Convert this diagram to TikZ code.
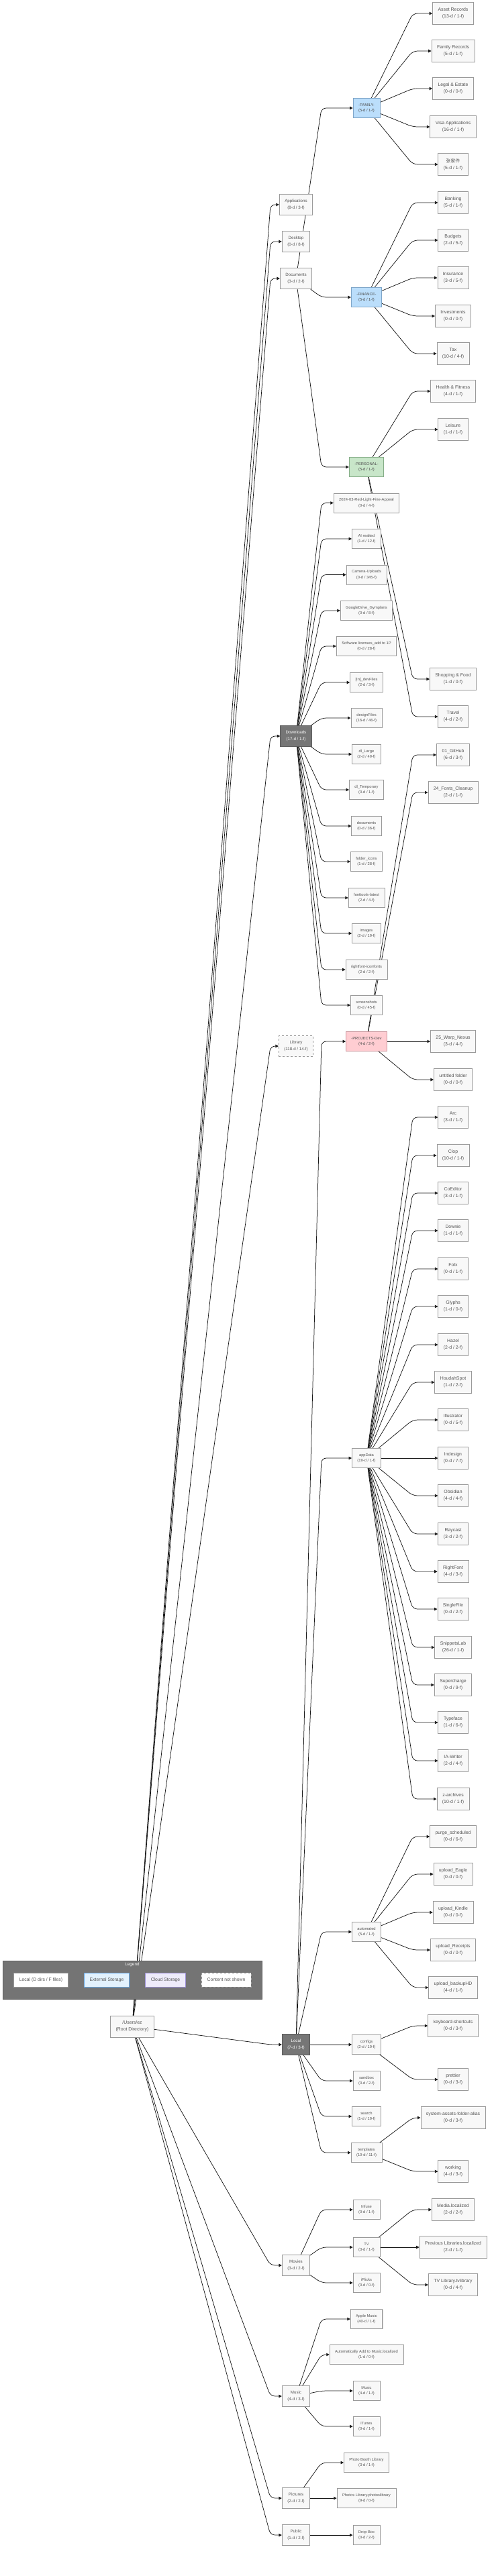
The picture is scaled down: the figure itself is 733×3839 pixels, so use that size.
\documentclass[tikz,border=0pt]{standalone}
\usepackage{fontspec}
\setmainfont{Liberation Sans}
\newfontfamily\cjk{Noto Sans CJK SC}
\usetikzlibrary{arrows.meta,shadows}
\pgfdeclarelayer{bg}
\pgfsetlayers{bg,main}
\definecolor{boxfill}{HTML}{F8F8F8}
\definecolor{boxdraw}{HTML}{9A9A9A}
\definecolor{txtgray}{HTML}{555555}
\definecolor{darkfill}{HTML}{767676}
\definecolor{darkdraw}{HTML}{5A5A5A}
\definecolor{bluefill}{HTML}{BBDEFB}
\definecolor{bluedraw}{HTML}{7FA6C9}
\definecolor{greenfill}{HTML}{C8E6C9}
\definecolor{greendraw}{HTML}{86AE88}
\definecolor{pinkfill}{HTML}{FFCDD2}
\definecolor{pinkdraw}{HTML}{C9959B}
\definecolor{extfill}{HTML}{E3F2FD}
\definecolor{extdraw}{HTML}{64A8E6}
\definecolor{cloudfill}{HTML}{EEEBFA}
\definecolor{clouddraw}{HTML}{9C8FD6}
\definecolor{legendfill}{HTML}{747474}
\tikzset{
  base/.style={draw=boxdraw, fill=boxfill, text=txtgray, align=center,
    inner xsep=8pt, inner ysep=0pt, line width=0.7pt,
    drop shadow={shadow xshift=0.7pt, shadow yshift=-0.9pt, fill=black!40, opacity=0.5}},
  leaf/.style={base, font=\fontsize{6.9}{10}\selectfont, minimum height=33pt},
  lvltwo/.style={base, font=\fontsize{6.2}{10}\selectfont, minimum height=31pt},
  lvlthree/.style={base, font=\fontsize{5.8}{8.5}\selectfont, minimum height=29pt},
  darkbox/.style={fill=darkfill, draw=darkdraw, text=white},
  bluebox/.style={fill=bluefill, draw=bluedraw, text=black!70},
  greenbox/.style={fill=greenfill, draw=greendraw, text=black!70},
  pinkbox/.style={fill=pinkfill, draw=pinkdraw, text=black!70},
  dashbox/.style={dashed},
  edge/.style={draw=black!90, line width=0.75pt, rounded corners=7pt,
    -{Triangle[length=4.5pt,width=4.4pt]}},
  legitem/.style={draw=boxdraw, fill=white, text=txtgray, inner xsep=8.5pt,
    minimum height=21pt, font=\fontsize{6.8}{8}\selectfont, line width=0.7pt}
}
\begin{document}
\begin{tikzpicture}[x=1pt,y=-1pt]
\useasboundingbox (0,0) rectangle (733,3839);
\coordinate (bA) at (403,0);
\coordinate (bB) at (479,0);
\coordinate (bC) at (615,0);

% root
\node[leaf, minimum height=32pt] (root) at (197,3020) {/Users/ez\\(Root Directory)};

% second level
\node[lvltwo] (applications) at (441,305) {Applications\\(8-d / 3-f)};
\node[lvltwo] (desktop) at (441,360) {Desktop\\(0-d / 8-f)};
\node[lvltwo] (documents) at (441,415) {Documents\\(3-d / 2-f)};
\node[lvltwo, darkbox] (downloads) at (441,1097) {Downloads\\(17-d / 1-f)};
\node[lvltwo, dashbox] (library) at (441,1559) {Library\\(118-d / 14-f)};
\node[lvltwo, darkbox] (local) at (441,3047) {Local\\(7-d / 3-f)};
\node[lvltwo] (movies) at (441,3376) {Movies\\(3-d / 2-f)};
\node[lvltwo] (music) at (441,3571) {Music\\(4-d / 3-f)};
\node[lvltwo] (pictures) at (441,3723) {Pictures\\(2-d / 2-f)};
\node[lvltwo] (public) at (441,3778) {Public\\(1-d / 2-f)};

% third level
\node[lvlthree, bluebox] (family) at (546,161) {-FAMILY-\\(5-d / 1-f)};
\node[lvlthree, bluebox] (finance) at (546,443) {-FINANCE-\\(5-d / 1-f)};
\node[lvlthree, greenbox] (personal) at (546,696) {-PERSONAL-\\(5-d / 1-f)};
\node[lvlthree] (redlight) at (546,749.5) {2024-03-Red-Light-Fine-Appeal\\(0-d / 4-f)};
\node[lvlthree] (airealted) at (546,803) {AI realted\\(1-d / 12-f)};
\node[lvlthree] (camera) at (546,856.5) {Camera-Uploads\\(0-d / 345-f)};
\node[lvlthree] (gdrive) at (546,910) {GoogleDrive\_Gymplans\\(0-d / 8-f)};
\node[lvlthree] (software) at (546,963) {Software licenses\_add to 1P\\(0-d / 28-f)};
\node[lvlthree] (devfiles) at (546,1017) {[In]\_devFiles\\(2-d / 3-f)};
\node[lvlthree] (designfiles) at (546,1070) {designFiles\\(16-d / 46-f)};
\node[lvlthree] (dllarge) at (546,1124) {dl\_Large\\(2-d / 49-f)};
\node[lvlthree] (dltemp) at (546,1177) {dl\_Temporary\\(0-d / 1-f)};
\node[lvlthree] (documentstwo) at (546,1231) {documents\\(0-d / 36-f)};
\node[lvlthree] (foldericons) at (546,1284) {folder\_icons\\(1-d / 28-f)};
\node[lvlthree] (fonttools) at (546,1338) {fonttools-latest\\(2-d / 4-f)};
\node[lvlthree] (images) at (546,1391) {images\\(2-d / 19-f)};
\node[lvlthree] (rficon) at (546,1445) {rightfont-iconfonts\\(2-d / 2-f)};
\node[lvlthree] (screenshots) at (546,1498) {screenshots\\(0-d / 45-f)};
\node[lvlthree, pinkbox] (projects) at (546,1552) {-PROJECTS-Dev\\(4-d / 2-f)};
\node[lvlthree] (appdata) at (546,2173) {appData\\(19-d / 1-f)};
\node[lvlthree] (automated) at (546,2879) {automated\\(5-d / 1-f)};
\node[lvlthree] (configs) at (546,3047) {configs\\(2-d / 19-f)};
\node[lvlthree] (sandbox) at (546,3101) {sandbox\\(0-d / 2-f)};
\node[lvlthree] (search) at (546,3154) {search\\(1-d / 19-f)};
\node[lvlthree] (templates) at (546,3208) {templates\\(10-d / 11-f)};
\node[lvlthree] (infuse) at (546,3293) {Infuse\\(0-d / 1-f)};
\node[lvlthree] (tv) at (546,3349) {TV\\(3-d / 1-f)};
\node[lvlthree] (iflicks) at (546,3402) {iFlicks\\(0-d / 0-f)};
\node[lvlthree] (applemusic) at (546,3456) {Apple Music\\(40-d / 1-f)};
\node[lvlthree] (autoadd) at (546,3509) {Automatically Add to Music.localized\\(1-d / 0-f)};
\node[lvlthree] (musictwo) at (546,3563) {Music\\(4-d / 1-f)};
\node[lvlthree] (itunes) at (546,3616) {iTunes\\(0-d / 1-f)};
\node[lvlthree] (photobooth) at (546,3670) {Photo Booth Library\\(3-d / 1-f)};
\node[lvlthree] (photoslib) at (546,3723) {Photos Library.photoslibrary\\(9-d / 0-f)};
\node[lvlthree] (dropbox) at (546,3778) {Drop Box\\(0-d / 2-f)};

% leaves
\node[leaf] (asset) at (675,20) {Asset Records\\(13-d / 1-f)};
\node[leaf] (familyrec) at (675,76) {Family Records\\(5-d / 1-f)};
\node[leaf] (legal) at (675,132) {Legal \& Estate\\(0-d / 0-f)};
\node[leaf] (visa) at (675,189) {Visa Applications\\(16-d / 1-f)};
\node[leaf] (zhang) at (675,245) {{\cjk 张家件}\\(5-d / 1-f)};
\node[leaf] (banking) at (675,302) {Banking\\(5-d / 1-f)};
\node[leaf] (budgets) at (675,358) {Budgets\\(2-d / 5-f)};
\node[leaf] (insurance) at (675,414) {Insurance\\(3-d / 5-f)};
\node[leaf] (investments) at (675,471) {Investments\\(0-d / 0-f)};
\node[leaf] (tax) at (675,527) {Tax\\(10-d / 4-f)};
\node[leaf] (health) at (675,583) {Health \& Fitness\\(4-d / 1-f)};
\node[leaf] (leisure) at (675,640) {Leisure\\(1-d / 1-f)};
\node[leaf] (shopping) at (675,1012) {Shopping \& Food\\(1-d / 0-f)};
\node[leaf] (travel) at (675,1068) {Travel\\(4-d / 2-f)};
\node[leaf] (github) at (675,1125) {01\_GitHub\\(6-d / 3-f)};
\node[leaf] (fontsclean) at (675,1181) {24\_Fonts\_Cleanup\\(2-d / 1-f)};
\node[leaf] (warp) at (675,1552) {25\_Warp\_Nexus\\(3-d / 4-f)};
\node[leaf] (untitled) at (675,1609) {untitled folder\\(0-d / 0-f)};
\node[leaf] (arc) at (675,1665) {Arc\\(3-d / 1-f)};
\node[leaf] (clop) at (675,1722) {Clop\\(10-d / 1-f)};
\node[leaf] (coeditor) at (675,1778) {CoEditor\\(3-d / 1-f)};
\node[leaf] (downie) at (675,1834) {Downie\\(1-d / 1-f)};
\node[leaf] (folx) at (675,1891) {Folx\\(0-d / 1-f)};
\node[leaf] (glyphs) at (675,1947) {Glyphs\\(1-d / 0-f)};
\node[leaf] (hazel) at (675,2004) {Hazel\\(2-d / 2-f)};
\node[leaf] (houdah) at (675,2060) {HoudahSpot\\(1-d / 2-f)};
\node[leaf] (illustrator) at (675,2116) {Illustrator\\(0-d / 5-f)};
\node[leaf] (indesign) at (675,2173) {Indesign\\(0-d / 7-f)};
\node[leaf] (obsidian) at (675,2229) {Obsidian\\(4-d / 4-f)};
\node[leaf] (raycast) at (675,2286) {Raycast\\(3-d / 2-f)};
\node[leaf] (rightfont) at (675,2342) {RightFont\\(4-d / 3-f)};
\node[leaf] (singlefile) at (675,2398) {SingleFile\\(0-d / 2-f)};
\node[leaf] (snippets) at (675,2455) {SnippetsLab\\(26-d / 1-f)};
\node[leaf] (supercharge) at (675,2511) {Supercharge\\(0-d / 9-f)};
\node[leaf] (typeface) at (675,2567) {Typeface\\(1-d / 6-f)};
\node[leaf] (iawriter) at (675,2624) {IA-Writer\\(2-d / 4-f)};
\node[leaf] (zarchives) at (675,2681) {z-archives\\(10-d / 1-f)};
\node[leaf] (purge) at (675,2737) {purge\_scheduled\\(0-d / 6-f)};
\node[leaf] (eagle) at (675,2793) {upload\_Eagle\\(0-d / 0-f)};
\node[leaf] (kindle) at (675,2850) {upload\_Kindle\\(0-d / 0-f)};
\node[leaf] (receipts) at (675,2906) {upload\_Receipts\\(0-d / 0-f)};
\node[leaf] (backuphd) at (675,2962) {upload\_backupHD\\(4-d / 1-f)};
\node[leaf] (keyboard) at (675,3019) {keyboard-shortcuts\\(0-d / 3-f)};
\node[leaf] (prettier) at (675,3099) {prettier\\(0-d / 3-f)};
\node[leaf] (sysassets) at (675,3156) {system-assets-folder-alias\\(0-d / 3-f)};
\node[leaf] (working) at (675,3236) {working\\(4-d / 3-f)};
\node[leaf] (media) at (675,3293) {Media.localized\\(2-d / 2-f)};
\node[leaf] (prevlib) at (675,3349) {Previous Libraries.localized\\(2-d / 1-f)};
\node[leaf] (tvlib) at (675,3405) {TV Library.tvlibrary\\(0-d / 4-f)};

% edges
\begin{pgfonlayer}{bg}
\foreach \s/\b/\t in {
  root/bA/applications, root/bA/desktop, root/bA/documents, root/bA/downloads,
  root/bA/library, root/bA/local, root/bA/movies, root/bA/music,
  root/bA/pictures, root/bA/public,
  documents/bB/family, documents/bB/finance, documents/bB/personal,
  family/bC/asset, family/bC/familyrec, family/bC/legal, family/bC/visa, family/bC/zhang,
  finance/bC/banking, finance/bC/budgets, finance/bC/insurance, finance/bC/investments, finance/bC/tax,
  personal/bC/health, personal/bC/leisure, personal/bC/shopping, personal/bC/travel,
  downloads/bB/redlight, downloads/bB/airealted, downloads/bB/camera, downloads/bB/gdrive,
  downloads/bB/software, downloads/bB/devfiles, downloads/bB/designfiles, downloads/bB/dllarge,
  downloads/bB/dltemp, downloads/bB/documentstwo, downloads/bB/foldericons, downloads/bB/fonttools,
  downloads/bB/images, downloads/bB/rficon, downloads/bB/screenshots,
  local/bB/projects, local/bB/appdata, local/bB/automated, local/bB/configs,
  local/bB/sandbox, local/bB/search, local/bB/templates,
  projects/bC/github, projects/bC/fontsclean, projects/bC/warp, projects/bC/untitled,
  appdata/bC/arc, appdata/bC/clop, appdata/bC/coeditor, appdata/bC/downie, appdata/bC/folx,
  appdata/bC/glyphs, appdata/bC/hazel, appdata/bC/houdah, appdata/bC/illustrator,
  appdata/bC/indesign, appdata/bC/obsidian, appdata/bC/raycast, appdata/bC/rightfont,
  appdata/bC/singlefile, appdata/bC/snippets, appdata/bC/supercharge, appdata/bC/typeface,
  appdata/bC/iawriter, appdata/bC/zarchives,
  automated/bC/purge, automated/bC/eagle, automated/bC/kindle, automated/bC/receipts,
  automated/bC/backuphd,
  configs/bC/keyboard, configs/bC/prettier,
  templates/bC/sysassets, templates/bC/working,
  movies/bB/infuse, movies/bB/tv, movies/bB/iflicks,
  tv/bC/media, tv/bC/prevlib, tv/bC/tvlib,
  music/bB/applemusic, music/bB/autoadd, music/bB/musictwo, music/bB/itunes,
  pictures/bB/photobooth, pictures/bB/photoslib,
  public/bB/dropbox}
  \draw[edge] (\s) -- (\t -| \b) -- (\t);
\end{pgfonlayer}

% legend
\node[fill=legendfill, draw=legendfill!80!black, minimum width=386pt, minimum height=57pt,
  inner sep=0pt] (legend) at (197,2950.5) {};
\node[text=white, font=\fontsize{6.3}{7}\selectfont] (legtitle) at (197,2927.5) {Legend};
\node[legitem] (legA) at (61,2950.5) {Local (D dirs / F files)};
\node[legitem, fill=extfill, draw=extdraw] (legB) at (159,2950.5) {External Storage};
\node[legitem, fill=cloudfill, draw=clouddraw] (legC) at (246.5,2950.5) {Cloud Storage};
\node[legitem, dashed] (legD) at (337,2950.5) {Content not shown};
\end{tikzpicture}
\end{document}
